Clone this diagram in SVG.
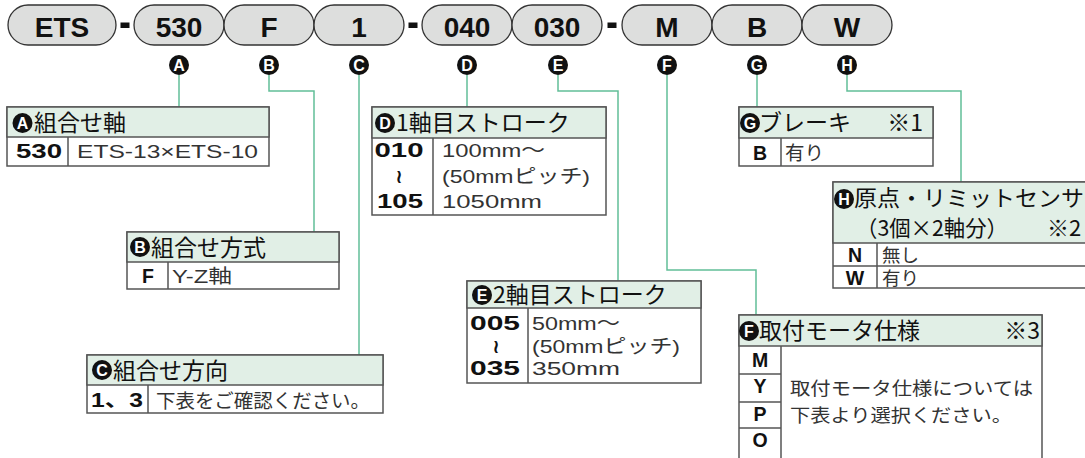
<svg xmlns="http://www.w3.org/2000/svg" width="1085" height="458" viewBox="0 0 1085 458">
<style>
.pill{fill:#dddedd;stroke:#333;stroke-width:1.3}
.pt{font:bold 28px "Liberation Sans",Arial,sans-serif;text-anchor:middle;fill:#111}
.dash{fill:#111}
.bc{fill:#111}
.bl{font:bold 16px "Liberation Sans",Arial,sans-serif;text-anchor:middle;fill:#fff}
.conn{fill:none;stroke:#62be98;stroke-width:1.5}
.box{fill:#fff;stroke:#555;stroke-width:1.5}
.hdr{fill:#e1efe6;stroke:#555;stroke-width:1.5}
.ln{stroke:#555;stroke-width:1.5;fill:none}
.ht{font:23px "Noto Sans CJK JP",sans-serif;fill:#111}
.code{font:bold 19.5px "Liberation Sans","Noto Sans CJK JP",sans-serif;text-anchor:middle;fill:#111}
.wave{font:bold 19px "DejaVu Sans","Noto Sans CJK JP",sans-serif;text-anchor:middle;fill:#111}
.val{font:19px "Liberation Sans","Noto Sans CJK JP",sans-serif;fill:#333}
.jp{font:19.5px "Noto Sans CJK JP",sans-serif;fill:#333}
</style>

<g id="model-code">
  <rect class="pill" x="8" y="5" width="108" height="40" rx="20"/>
  <text class="pt" x="62" y="37">ETS</text>
  <rect class="dash" x="120.5" y="22.5" width="9" height="5.5"/>
  <rect class="pill" x="134" y="5" width="90" height="40" rx="20"/>
  <text class="pt" x="179" y="37">530</text>
  <rect class="pill" x="224" y="5" width="90" height="40" rx="20"/>
  <text class="pt" x="269" y="37">F</text>
  <rect class="pill" x="314" y="5" width="90" height="40" rx="20"/>
  <text class="pt" x="359" y="37">1</text>
  <rect class="dash" x="408.5" y="22.5" width="9" height="5.5"/>
  <rect class="pill" x="422" y="5" width="90" height="40" rx="20"/>
  <text class="pt" x="467" y="37">040</text>
  <rect class="pill" x="512" y="5" width="90" height="40" rx="20"/>
  <text class="pt" x="557" y="37">030</text>
  <rect class="dash" x="607.5" y="22.5" width="9" height="5.5"/>
  <rect class="pill" x="622" y="5" width="90" height="40" rx="20"/>
  <text class="pt" x="667" y="37">M</text>
  <rect class="pill" x="712" y="5" width="90" height="40" rx="20"/>
  <text class="pt" x="757" y="37">B</text>
  <rect class="pill" x="802" y="5" width="90" height="40" rx="20"/>
  <text class="pt" x="847" y="37">W</text>
</g>

<g id="badges">
  <circle class="bc" cx="179" cy="65" r="10"/><text class="bl" x="179" y="70.5">A</text>
  <circle class="bc" cx="269" cy="65" r="10"/><text class="bl" x="269" y="70.5">B</text>
  <circle class="bc" cx="359" cy="65" r="10"/><text class="bl" x="359" y="70.5">C</text>
  <circle class="bc" cx="467" cy="65" r="10"/><text class="bl" x="467" y="70.5">D</text>
  <circle class="bc" cx="558" cy="65" r="10"/><text class="bl" x="558" y="70.5">E</text>
  <circle class="bc" cx="667" cy="65" r="10"/><text class="bl" x="667" y="70.5">F</text>
  <circle class="bc" cx="757" cy="65" r="10"/><text class="bl" x="757" y="70.5">G</text>
  <circle class="bc" cx="847" cy="65" r="10"/><text class="bl" x="847" y="70.5">H</text>
</g>

<g id="connectors">
  <path class="conn" d="M179 75 V107"/>
  <path class="conn" d="M269 75 V91 H314 V232"/>
  <path class="conn" d="M359 75 V355"/>
  <path class="conn" d="M467 75 V107"/>
  <path class="conn" d="M558 75 V91 H618 V281"/>
  <path class="conn" d="M667 75 V270 H756 V315"/>
  <path class="conn" d="M757 75 V107"/>
  <path class="conn" d="M847 75 V91 H961 V182"/>
</g>

<g id="box-A">
  <rect class="box" x="7" y="107" width="262" height="59"/>
  <rect class="hdr" x="7" y="107" width="262" height="30"/>
  <line class="ln" x1="68" y1="137" x2="68" y2="166"/>
  <circle class="bc" cx="22.5" cy="123" r="10"/><text class="bl" x="22.5" y="128.5">A</text>
  <text class="ht" x="34" y="131">組合せ軸</text>
  <text class="code" x="39" y="158" textLength="46" lengthAdjust="spacingAndGlyphs">530</text>
  <text class="val" x="77" y="158" textLength="181" lengthAdjust="spacingAndGlyphs">ETS-13×ETS-10</text>
</g>

<g id="box-B">
  <rect class="box" x="127" y="232" width="212" height="57"/>
  <rect class="hdr" x="127" y="232" width="212" height="30"/>
  <line class="ln" x1="168" y1="262" x2="168" y2="289"/>
  <circle class="bc" cx="140" cy="247" r="10"/><text class="bl" x="140" y="252.5">B</text>
  <text class="ht" x="151" y="256">組合せ方式</text>
  <text class="code" x="148" y="283">F</text>
  <text class="val" x="172" y="283" textLength="60" lengthAdjust="spacingAndGlyphs">Y-Z軸</text>
</g>

<g id="box-C">
  <rect class="box" x="87" y="355" width="296" height="58"/>
  <rect class="hdr" x="87" y="355" width="296" height="30"/>
  <line class="ln" x1="148" y1="385" x2="148" y2="413"/>
  <circle class="bc" cx="102" cy="370" r="10"/><text class="bl" x="102" y="375.5">C</text>
  <text class="ht" x="113" y="379">組合せ方向</text>
  <text class="code" x="117" y="407" textLength="52" lengthAdjust="spacingAndGlyphs">1、3</text>
  <text class="jp" x="156" y="408" textLength="214" lengthAdjust="spacingAndGlyphs">下表をご確認ください。</text>
</g>

<g id="box-D">
  <rect class="box" x="372" y="107" width="234" height="108"/>
  <rect class="hdr" x="372" y="107" width="234" height="31"/>
  <line class="ln" x1="433" y1="138" x2="433" y2="215"/>
  <circle class="bc" cx="385" cy="123" r="10"/><text class="bl" x="385" y="128.5">D</text>
  <text class="ht" x="396" y="131">1軸目ストローク</text>
  <text class="code" x="399" y="157" textLength="49" lengthAdjust="spacingAndGlyphs">010</text>
  <text class="wave" x="399" y="183">≀</text>
  <text class="code" x="400" y="208" textLength="46" lengthAdjust="spacingAndGlyphs">105</text>
  <text class="val" x="442" y="157" textLength="103" lengthAdjust="spacingAndGlyphs">100mm～</text>
  <text class="val" x="442" y="183" textLength="148" lengthAdjust="spacingAndGlyphs">(50mmピッチ)</text>
  <text class="val" x="442" y="208" textLength="100" lengthAdjust="spacingAndGlyphs">1050mm</text>
</g>

<g id="box-E">
  <rect class="box" x="467" y="281" width="234" height="102"/>
  <rect class="hdr" x="467" y="281" width="234" height="27"/>
  <line class="ln" x1="528" y1="308" x2="528" y2="383"/>
  <circle class="bc" cx="482" cy="295" r="10"/><text class="bl" x="482" y="300.5">E</text>
  <text class="ht" x="493" y="303">2軸目ストローク</text>
  <text class="code" x="495" y="330" textLength="50" lengthAdjust="spacingAndGlyphs">005</text>
  <text class="wave" x="496" y="353">≀</text>
  <text class="code" x="495" y="375" textLength="50" lengthAdjust="spacingAndGlyphs">035</text>
  <text class="val" x="532" y="330" textLength="88" lengthAdjust="spacingAndGlyphs">50mm～</text>
  <text class="val" x="532" y="353" textLength="148" lengthAdjust="spacingAndGlyphs">(50mmピッチ)</text>
  <text class="val" x="532" y="375" textLength="88" lengthAdjust="spacingAndGlyphs">350mm</text>
</g>

<g id="box-F">
  <rect class="box" x="739" y="315" width="303" height="150"/>
  <rect class="hdr" x="739" y="315" width="303" height="31"/>
  <line class="ln" x1="781" y1="346" x2="781" y2="465"/>
  <line class="ln" x1="739" y1="374" x2="781" y2="374"/>
  <line class="ln" x1="739" y1="402" x2="781" y2="402"/>
  <line class="ln" x1="739" y1="428" x2="781" y2="428"/>
  <circle class="bc" cx="749" cy="331" r="10"/><text class="bl" x="749" y="336.5">F</text>
  <text class="ht" x="759" y="339">取付モータ仕様</text>
  <text class="ht" x="1040" y="339" text-anchor="end">※3</text>
  <text class="code" x="760" y="367">M</text>
  <text class="code" x="760" y="393">Y</text>
  <text class="code" x="760" y="421">P</text>
  <text class="code" x="760" y="447">O</text>
  <text class="jp" x="790" y="395" style="font-size:18.5px" textLength="243" lengthAdjust="spacingAndGlyphs">取付モータ仕様については</text>
  <text class="jp" x="790" y="422" style="font-size:18.5px" textLength="222" lengthAdjust="spacingAndGlyphs">下表より選択ください。</text>
</g>

<g id="box-G">
  <rect class="box" x="739" y="107" width="194" height="59"/>
  <rect class="hdr" x="739" y="107" width="194" height="31"/>
  <line class="ln" x1="781" y1="138" x2="781" y2="166"/>
  <circle class="bc" cx="750" cy="123" r="10"/><text class="bl" x="750" y="128.5">G</text>
  <text class="ht" x="759" y="131">ブレーキ</text>
  <text class="ht" x="923" y="131" text-anchor="end">※1</text>
  <text class="code" x="760" y="160">B</text>
  <text class="jp" x="785" y="160">有り</text>
</g>

<g id="box-H">
  <rect class="box" x="833" y="182" width="262" height="106"/>
  <rect class="hdr" x="833" y="182" width="262" height="61"/>
  <line class="ln" x1="877" y1="243" x2="877" y2="288"/>
  <line class="ln" x1="833" y1="266" x2="1095" y2="266"/>
  <circle class="bc" cx="844" cy="199" r="10"/><text class="bl" x="844" y="204.5">H</text>
  <text class="ht" x="854" y="206" style="font-size:22px" textLength="230" lengthAdjust="spacingAndGlyphs">原点・リミットセンサ</text>
  <text class="ht" x="856" y="236" style="font-size:22px" textLength="152" lengthAdjust="spacingAndGlyphs">（3個×2軸分）</text>
  <text class="ht" x="1047" y="236" style="font-size:22px">※2</text>
  <text class="code" x="855" y="262">N</text>
  <text class="jp" x="882" y="262" style="font-size:18.5px">無し</text>
  <text class="code" x="855" y="285">W</text>
  <text class="jp" x="882" y="285" style="font-size:18.5px">有り</text>
</g>
</svg>
